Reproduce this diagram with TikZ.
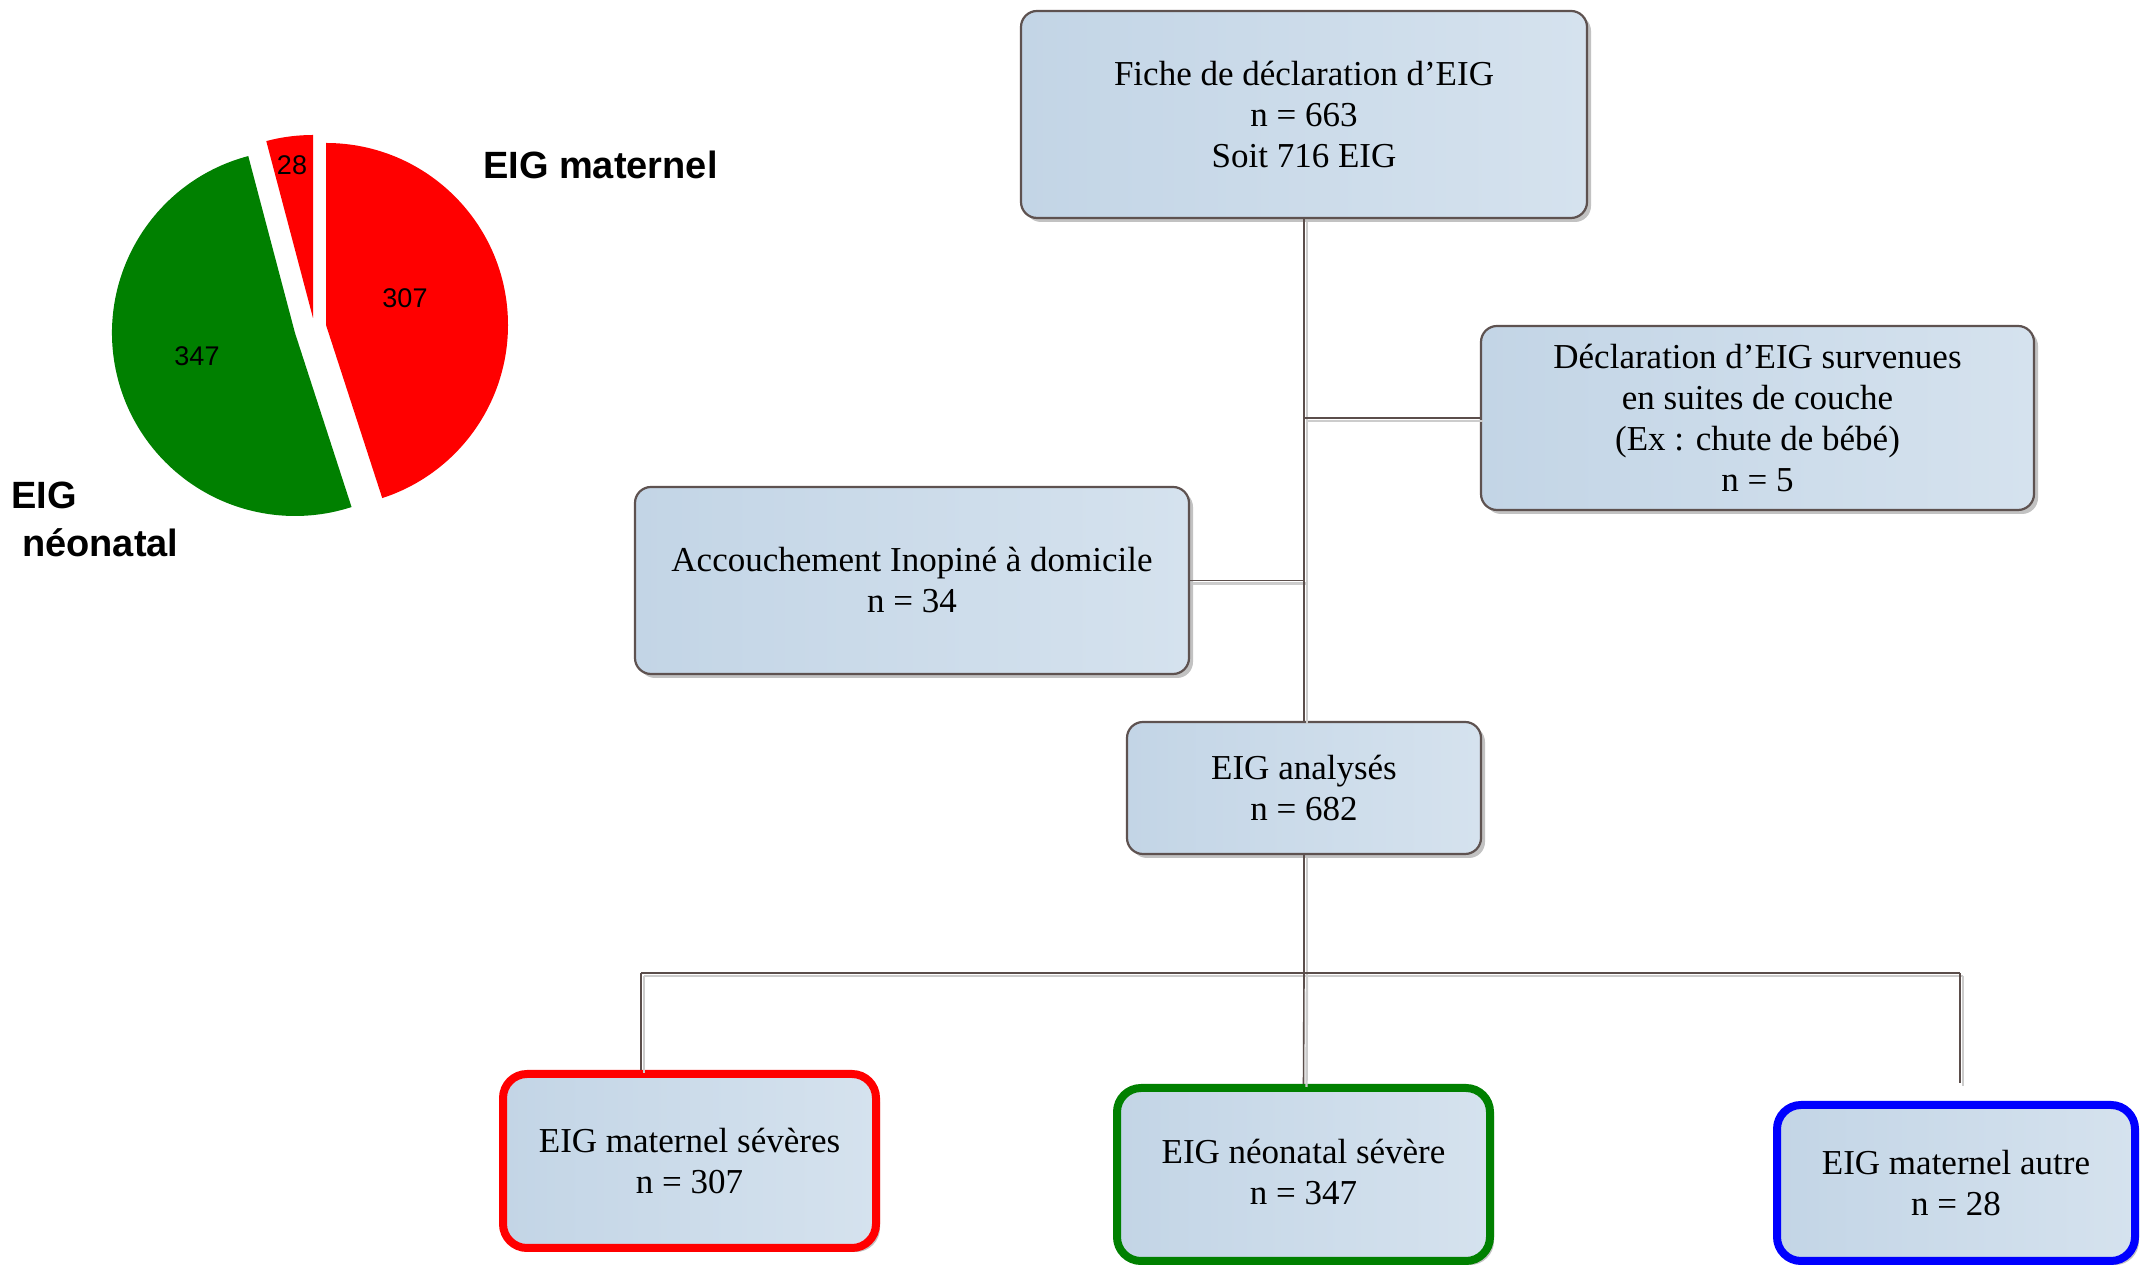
\documentclass[tikz,border=0pt]{standalone}
\usepackage{fontspec}
\setmainfont{Liberation Serif}
\newfontfamily\piesans{Liberation Sans}
\usetikzlibrary{shadows}
\definecolor{fillA}{HTML}{C3D5E6}
\definecolor{fillB}{HTML}{D5E2EE}
\definecolor{bord}{HTML}{5E5250}
\definecolor{linec}{HTML}{5B4E4B}
\definecolor{pieRed}{HTML}{FF0000}
\definecolor{pieGreen}{HTML}{008000}
\definecolor{boxRed}{HTML}{FF0000}
\definecolor{boxGreen}{HTML}{008000}
\definecolor{boxBlue}{HTML}{0000FF}
\begin{document}
\begin{tikzpicture}[x=1pt,y=1pt,
  box/.style={rectangle, rounded corners=16pt, draw=bord, line width=2.2pt,
    left color=fillA, right color=fillB, align=center, inner sep=0pt,
    font=\fontsize{35}{41}\selectfont,
    drop shadow={shadow xshift=4pt, shadow yshift=-4pt, fill=black!40, opacity=.6}},
  cbox/.style={box, rounded corners=24pt, line width=8pt},
  conn/.style={draw=linec, line width=1.6pt},
  connsh/.style={draw=black!20, line width=2.4pt},
  pielab/.style={font=\piesans\fontsize{27}{32}\selectfont, inner sep=0pt},
  legendlab/.style={font=\piesans\bfseries\fontsize{38}{45}\selectfont, inner sep=0pt, anchor=west}
]
\useasboundingbox (0,0) rectangle (2140,1265);

% ---- pie chart ----
\fill[pieRed] (326,940) -- ++(90:182) arc[start angle=90, end angle=-72, radius=182] -- cycle;
\fill[pieRed] (313,947) -- ++(90:183) arc[start angle=90, end angle=104.8, radius=183] -- cycle;
\fill[pieGreen] (295,932) -- ++(104.8:183) arc[start angle=104.8, end angle=288, radius=183] -- cycle;
\node[pielab] (p28) at (292,1100) {28};
\node[pielab] (p307) at (405,967) {307};
\node[pielab] (p347) at (197,909) {347};
\node[legendlab] (lmat) at (483,1100) {EIG maternel};
\node[legendlab] (lneo1) at (11,770) {EIG};
\node[legendlab] (lneo2) at (22,722) {néonatal};

% ---- flowchart boxes ----
\node[box, minimum width=566pt, minimum height=207pt] (top) at (1304,1150.5)
  {Fiche de déclaration d’EIG\\ n = 663\\ Soit 716 EIG};
\node[box, minimum width=553pt, minimum height=184pt] (decl) at (1757.5,847)
  {Déclaration d’EIG survenues\\ en suites de couche\\ (Ex : chute de bébé)\\ n = 5};
\node[box, minimum width=554pt, minimum height=187pt] (acc) at (912,684.5)
  {Accouchement Inopiné à domicile\\ n = 34};
\node[box, minimum width=354pt, minimum height=132pt] (ana) at (1304,477)
  {EIG analysés\\ n = 682};
\node[cbox, draw=boxRed, minimum width=373pt, minimum height=174pt] (red) at (689.5,104)
  {EIG maternel sévères\\ n = 307};
\node[cbox, draw=boxGreen, minimum width=373pt, minimum height=173pt] (green) at (1303.5,90.5)
  {\raisebox{5pt}{EIG néonatal sévère}\\ \raisebox{5pt}{n = 347}};
\node[cbox, draw=boxBlue, minimum width=358pt, minimum height=156pt] (blue) at (1956,82)
  {EIG maternel autre\\ n = 28};

% ---- connectors ----
\coordinate (bR) at (641,292);
\coordinate (bM) at (1304,292);
\coordinate (bB) at (1960,292);
\coordinate (eB) at (1960,182);
\coordinate (jD) at (1304,847);
\coordinate (jA) at (1304,684.5);

\begin{scope}[transform canvas={xshift=3pt,yshift=-3pt}]
\draw[connsh] (top.south) -- (ana.north);
\draw[connsh] (jD) -- (decl.west);
\draw[connsh] (acc.east) -- (jA);
\draw[connsh] (ana.south) -- (bM);
\draw[connsh] (bR) -- (bB);
\draw[connsh] (bR) -- (bR |- red.north);
\draw[connsh] (bM) -- (green.north);
\draw[connsh] (bB) -- (eB);
\end{scope}
\draw[conn] (top.south) -- (ana.north);
\draw[conn] (jD) -- (decl.west);
\draw[conn] (acc.east) -- (jA);
\draw[conn] (ana.south) -- (bM);
\draw[conn] (bR) -- (bB);
\draw[conn] (bR) -- (bR |- red.north);
\draw[conn] (bM) -- (green.north);
\draw[conn] (bB) -- (eB);
\end{tikzpicture}
\end{document}
